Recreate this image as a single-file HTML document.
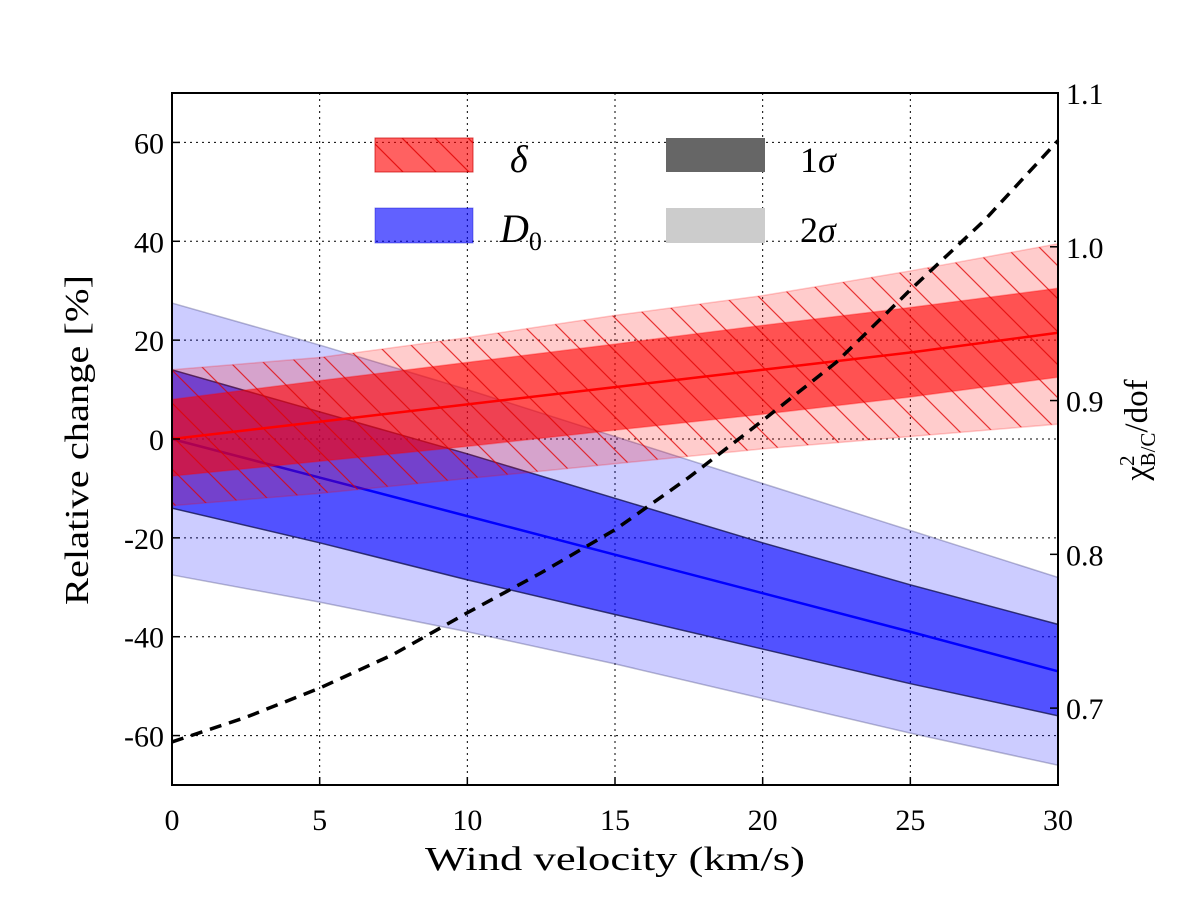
<!DOCTYPE html>
<html><head><meta charset="utf-8"><style>
html,body{margin:0;padding:0;background:#fff;}
svg{display:block;font-family:"Liberation Serif",serif;}
</style></head><body>
<svg id="chart" width="1200" height="907" viewBox="0 0 1200 907" xmlns="http://www.w3.org/2000/svg">
<defs>
<pattern id="hatch" patternUnits="userSpaceOnUse" width="33" height="33">
<path d="M-10,-10 L43,43 M-43,-10 L10,43 M23,-10 L76,43" stroke="#e00000" stroke-width="1.2" fill="none"/>
</pattern>
</defs>
<g id="grid"></g>
<g id="bands"></g>
<g id="axes"></g>
<g id="legend">
<rect x="375" y="138" width="98" height="34" fill="rgba(255,0,0,0.62)" stroke="rgba(200,0,0,0.7)"/>
<rect x="375" y="138" width="98" height="34" fill="url(#hatch)" opacity="0.8"/>
<text x="510" y="172" font-size="38" font-style="italic">δ</text>
<rect x="375" y="208" width="98" height="35" fill="rgba(0,0,255,0.62)" stroke="rgba(0,0,200,0.4)"/>
<text x="500" y="242" font-size="40" font-style="italic">D<tspan font-style="normal" font-size="26" dy="8">0</tspan></text>
<rect x="666" y="138" width="99" height="34" fill="#666"/>
<text x="800" y="172" font-size="36">1<tspan font-style="italic">σ</tspan></text>
<rect x="666" y="208" width="99" height="35" fill="#ccc"/>
<text x="800" y="242" font-size="36">2<tspan font-style="italic">σ</tspan></text>
</g>
<text x="615" y="870" font-size="34" text-anchor="middle" textLength="380" lengthAdjust="spacingAndGlyphs">Wind velocity (km/s)</text>
<text transform="translate(88,440) rotate(-90)" font-size="34" text-anchor="middle" textLength="330" lengthAdjust="spacingAndGlyphs">Relative change [%]</text>
<text transform="translate(1147,430) rotate(-90)" font-size="33" text-anchor="middle">χ<tspan font-size="21" dy="-13">2</tspan><tspan font-size="21" dy="21" dx="-11">B/C</tspan><tspan dy="-8">/dof</tspan></text>
</svg>
<script>
const xs = [0,5,10,15,20,25,30];
const redCenter = [0,3.5,7,10.5,14,17.5,21.5];
const red1Up = [8,11.8,15.5,19.2,23,26.6,30.5];
const red1Lo = [-7.5,-4.5,-1.5,1.8,5,8.5,12.5];
const red2Up = [14,16.5,20.5,25,29,34,39.5];
const red2Lo = [-13.5,-11,-8,-5,-2,0.5,3];
const blueCenter = [0,-7.8,-15.6,-23.4,-31.2,-39,-47];
const blue1Up = [14,5.5,-3,-12,-21,-29.5,-37.5];
const blue1Lo = [-14,-21,-28.5,-35.5,-42.5,-49.5,-56];
const blue2Up = [27.5,19,10,0.5,-9,-18.5,-28];
const blue2Lo = [-27.5,-33,-39,-45.5,-52.5,-59.5,-66];
const chiX = [0,2.5,5,7.5,10,12.5,15,17.5,20,22.5,25,27.5,30];
const chiV = [0.678,0.694,0.713,0.735,0.762,0.788,0.816,0.85,0.887,0.925,0.972,1.017,1.069];
const xTicks = [0,5,10,15,20,25,30];
const yTicks = [-60,-40,-20,0,20,40,60];
const rTicks = [0.7,0.8,0.9,1.0,1.1];

const L=172,R=1058,T=93,B=785;
const sx=v=>L+(v-0)/30*(R-L);
const sy=v=>B-(v+70)/140*(B-T);
const sr=v=>B-(v-0.65)/0.45*(B-T);
const NS='http://www.w3.org/2000/svg';
function mk(tag,parent,attrs){const e=document.createElementNS(NS,tag);for(const k in attrs)e.setAttribute(k,attrs[k]);parent.appendChild(e);return e;}
const grid=document.getElementById('grid'),bands=document.getElementById('bands'),axes=document.getElementById('axes');

xTicks.forEach(t=>{const l=mk('line',grid,{x1:sx(t),x2:sx(t),y1:T,y2:B,stroke:'#000','stroke-width':1,'stroke-dasharray':'2,4'});

});
yTicks.forEach(t=>{const l=mk('line',grid,{x1:L,x2:R,y1:sy(t),y2:sy(t),stroke:'#000','stroke-width':1,'stroke-dasharray':'2,4'});

});

function band(up,lo,fill,stroke,name){
 let d='M'+xs.map((x,i)=>sx(x)+','+sy(up[i])).join(' L');
 d+=' L'+xs.map((x,i)=>sx(x)+','+sy(lo[i])).reverse().join(' L')+' Z';
 const p=mk('path',bands,{d:d,fill:fill,stroke:stroke,'stroke-width':1.5});
 
 
 return d;
}
function line(vals,color,name){
 const p=mk('path',bands,{d:'M'+xs.map((x,i)=>sx(x)+','+sy(vals[i])).join(' L'),fill:'none',stroke:color,'stroke-width':2.5});
 
 
}
band(blue2Up,blue2Lo,'rgba(0,0,255,0.2)','rgba(60,60,120,0.35)','d0-2sigma-band');
band(blue1Up,blue1Lo,'rgba(0,0,255,0.6)','rgba(20,20,80,0.8)','d0-1sigma-band');
line(blueCenter,'#0000ff','d0-center-line');
const d2=band(red2Up,red2Lo,'rgba(255,0,0,0.2)','rgba(255,0,0,0.2)','delta-2sigma-band');
const d1=band(red1Up,red1Lo,'rgba(255,0,0,0.6)','rgba(255,0,0,0.3)','delta-1sigma-band');
const h=mk('path',bands,{d:d2,fill:'url(#hatch)',opacity:0.75});


line(redCenter,'#ff0000','delta-center-line');
const chi=mk('path',bands,{d:'M'+chiX.map((x,i)=>sx(x)+','+sr(chiV[i])).join(' L'),fill:'none',stroke:'#000','stroke-width':3.5,'stroke-dasharray':'12,8'});



const fr=mk('rect',axes,{x:L,y:T,width:R-L,height:B-T,fill:'none',stroke:'#000','stroke-width':2});


xTicks.forEach(t=>{
 const tk=mk('line',axes,{x1:sx(t),x2:sx(t),y1:B,y2:B-8,stroke:'#000','stroke-width':1.5});
 
 
 const tx=mk('text',axes,{x:sx(t),y:B+45,'font-size':30,'text-anchor':'middle'});tx.textContent=t;
 
 
});
yTicks.forEach(t=>{
 const tk=mk('line',axes,{x1:L,x2:L+8,y1:sy(t),y2:sy(t),stroke:'#000','stroke-width':1.5});
 
 
 const tx=mk('text',axes,{x:L-8,y:sy(t)+11,'font-size':30,'text-anchor':'end'});tx.textContent=t;
 
 
});
rTicks.forEach(t=>{
 const tk=mk('line',axes,{x1:R,x2:R-8,y1:sr(t),y2:sr(t),stroke:'#000','stroke-width':1.5});
 
 
 const tx=mk('text',axes,{x:R+8,y:sr(t)+11,'font-size':30});tx.textContent=t.toFixed(1);
 
 
});
</script>
</body></html>
